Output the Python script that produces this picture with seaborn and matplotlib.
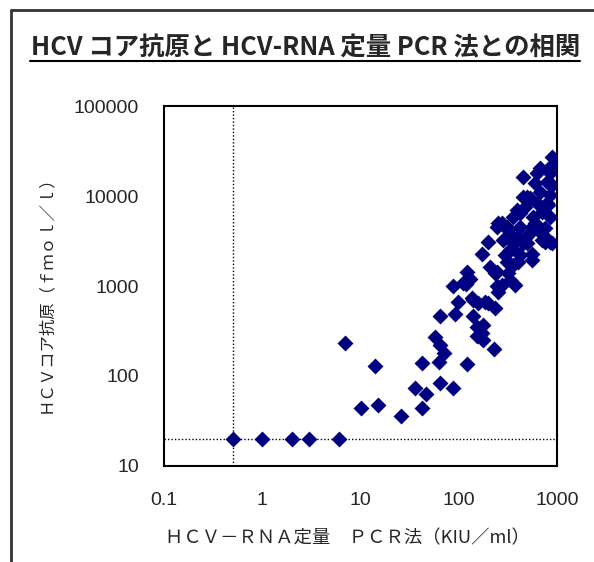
import matplotlib
matplotlib.use("Agg")
import matplotlib.pyplot as plt
from matplotlib.lines import Line2D
import seaborn as sns
import pandas as pd

# values (RNA in KIU/ml, core antigen in fmol/l)
rna = [0.5, 1, 2, 3, 6,
       7, 10, 14, 15, 26, 36, 46, 42, 42, 65, 88, 122, 63, 57, 65, 70, 65, 92,
       97, 88, 118, 139, 140, 152, 152, 228, 178, 170, 178,
       200, 170, 122, 135, 158, 185, 234, 208, 243, 274, 253, 332, 374, 308,
       296, 359, 404, 332, 359, 319, 389, 552, 492, 671, 755, 883, 111, 130,
       234, 243, 319, 332, 200,
       883, 883, 849, 671, 621, 454, 786, 597, 883, 849, 671, 531, 621, 815,
       454, 472, 698, 389, 574, 849, 359, 274, 243, 319, 420, 552, 755, 698,
       472, 359, 284, 815, 420, 492, 786, 597, 531, 849, 454, 350, 552, 420,
       253, 308, 350]
core = [20, 20, 20, 20, 20,
        230, 44, 130, 48, 36, 74, 63, 44, 138, 83, 74, 135, 144, 270, 220, 180, 465, 485,
        670, 1000, 1050, 700, 465, 350, 275, 200, 370, 300, 250,
        3100, 2270, 1440, 730, 640, 670, 565, 1640, 1440, 1030, 865, 1170, 1030, 1860,
        2210, 1710, 1860, 2510, 2980, 3530, 3530, 1940, 2980, 4010, 3100, 2980, 1070, 1210,
        1380, 990, 1380, 1770, 640,
        27000, 22100, 17870, 20300, 17870, 16380, 14430, 13850, 13250, 10260, 11170, 9430, 8300, 7940,
        9820, 7600, 6690, 6990, 5890, 5890, 5890, 4970, 4560, 4190, 4560, 4560, 4380, 3245,
        3390, 3100, 3245, 3245, 6420, 9820, 8300, 4970, 3850, 3100, 2980, 2620, 2300, 2210,
        4970, 4560, 3530]

x_ticks = [0.1, 1, 10, 100, 1000]
x_tick_labels = ["0.1", "1", "10", "100", "1000"]
y_ticks = [10, 100, 1000, 10000, 100000]
y_tick_labels = ["10", "100", "1000", "10000", "100000"]
cutoff_rna = 0.5
cutoff_core = 20

df = pd.DataFrame({"rna": rna, "core": core})

sns.set_style("white")
plt.rcParams['font.family'] = ['Liberation Sans', 'Noto Sans CJK JP', 'DejaVu Sans']

fig = plt.figure(figsize=(5.94, 5.62), dpi=100)
ax = fig.add_axes([0.276, 0.171, 0.662, 0.640])

ax.axvline(cutoff_rna, color="black", linestyle=(0, (1, 1.5)), linewidth=1, zorder=1)
ax.axhline(cutoff_core, color="black", linestyle=(0, (1, 1.5)), linewidth=1, zorder=1)

sns.scatterplot(data=df, x="rna", y="core", marker="D", s=66, color="#000080",
                linewidth=0, ax=ax, zorder=3)

ax.set_xscale("log")
ax.set_yscale("log")
ax.set_xlim(0.1, 1000)
ax.set_ylim(10, 100000)
ax.set_xticks(x_ticks)
ax.set_xticklabels(x_tick_labels)
ax.set_yticks(y_ticks)
ax.set_yticklabels(y_tick_labels)
ax.minorticks_off()
ax.tick_params(direction="in", length=5, width=1, color="black", labelsize=14)
ax.tick_params(axis="x", pad=19)
ax.tick_params(axis="y", pad=18)
for sp in ax.spines.values():
    sp.set_color("black")
    sp.set_linewidth(1.5)

ax.set_xlabel("")
ax.set_ylabel("")
fig.text(0.585, 0.043, "ＨＣＶ－ＲＮＡ定量　ＰＣＲ法（KIU／ml）", ha="center", va="center",
         fontsize=13.2, family=['Noto Sans CJK JP', 'DejaVu Sans'])
fig.text(0.076, 0.484, "ＨＣＶコア抗原（ｆｍｏｌ／ｌ）", ha="center", va="center",
         rotation=90, fontsize=11.8, family=['Noto Sans CJK JP', 'DejaVu Sans'])

# title with underline
fig.text(0.514, 0.915, "HCV コア抗原と HCV-RNA 定量 PCR 法との相関", ha="center", va="center",
         fontsize=18.3, fontweight="bold",
         family=['Noto Sans CJK JP', 'DejaVu Sans'])
fig.add_artist(Line2D([0.05, 0.977], [0.891, 0.891], color="black", linewidth=1.5))

# outer frame (left and top edges of the surrounding box)
fig.add_artist(Line2D([0.018, 0.018], [0.0, 0.982], color="#333333", linewidth=2))
fig.add_artist(Line2D([0.018, 1.0], [0.982, 0.982], color="#333333", linewidth=2))

fig.savefig("out.png", dpi=100)
